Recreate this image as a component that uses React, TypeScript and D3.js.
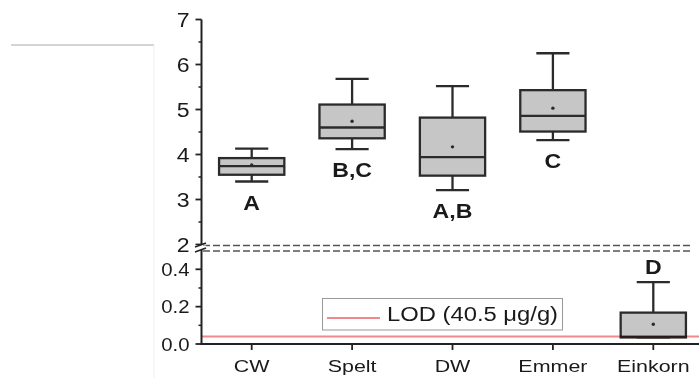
import * as d3 from 'd3';

const categories = ['CW', 'Spelt', 'DW', 'Emmer', 'Einkorn'];
const whiskerLow = [3.4, 4.12, 3.21, 4.32, 0.035];
const q1 = [3.55, 4.36, 3.53, 4.51, 0.035];
const median = [3.74, 4.6, 3.94, 4.86, 0.038];
const q3 = [3.92, 5.11, 4.82, 5.43, 0.168];
const whiskerHigh = [4.13, 5.68, 5.52, 6.25, 0.331];
const means = [3.77, 4.74, 4.17, 5.03, 0.106];
const letters = ['A', 'B,C', 'A,B', 'C', 'D'];
const letterSide = ['below', 'below', 'below', 'below', 'above'];

const upperTicks = [2, 3, 4, 5, 6, 7];
const upperMinor = [2.5, 3.5, 4.5, 5.5, 6.5];
const lowerTicks = [0, 0.2, 0.4];
const lowerMinor = [0.1, 0.3];
const lod = 0.0405;
const lodLabel = 'LOD (40.5 μg/g)';

const W = 699;
const H = 378;
const axisX = 201.5;
const font = 'Liberation Sans, Arial, sans-serif';
const ink = '#1a1a1a';

const yUp = d3.scaleLinear().domain([2, 7]).range([244.5, 19.5]);
const yLow = d3.scaleLinear().domain([0, 0.4]).range([344, 269.3]);
const y = (v: number) => (v >= 2 ? yUp(v) : yLow(v));
const x = d3.scaleBand().domain(categories).range([axisX, 703.5]);

function SText({ x, y, sx, size, anchor = 'start', weight = 'normal', children }: any) {
  return (
    <text
      transform={`translate(${x},${y}) scale(${sx},1)`}
      fontFamily={font}
      fontSize={size}
      fontWeight={weight}
      textAnchor={anchor}
      fill={ink}
    >
      {children}
    </text>
  );
}

export default function App() {
  const bw = x.bandwidth() * 0.65;
  const cap = x.bandwidth() * 0.33;
  const sw = 2.3;
  return (
    <svg width={W} height={H} style={{ position: 'absolute', left: 0, top: 0, background: '#fff' }}>
      {/* stray frame lines on the left */}
      <line x1={11} x2={154} y1={45} y2={45} stroke="#aaa" strokeWidth={1} />
      <line x1={154} x2={154} y1={45} y2={378} stroke="#eee" strokeWidth={1} />

      {/* boxes */}
      {categories.map((c, i) => {
        const cx = (x(c) as number) + x.bandwidth() / 2;
        const ly = letterSide[i] === 'below' ? y(whiskerLow[i]) + 28 : y(whiskerHigh[i]) - 8;
        return (
          <g key={c}>
            <line x1={cx} x2={cx} y1={y(whiskerHigh[i])} y2={y(q3[i])} stroke="#2b2b2b" strokeWidth={sw} />
            <line x1={cx} x2={cx} y1={y(q1[i])} y2={y(whiskerLow[i])} stroke="#2b2b2b" strokeWidth={sw} />
            <line x1={cx - cap / 2} x2={cx + cap / 2} y1={y(whiskerHigh[i])} y2={y(whiskerHigh[i])} stroke="#2b2b2b" strokeWidth={sw} />
            <line x1={cx - cap / 2} x2={cx + cap / 2} y1={y(whiskerLow[i])} y2={y(whiskerLow[i])} stroke="#2b2b2b" strokeWidth={sw} />
            <rect x={cx - bw / 2} y={y(q3[i])} width={bw} height={y(q1[i]) - y(q3[i])} fill="#c6c6c6" stroke="#2b2b2b" strokeWidth={sw} />
            <line x1={cx - bw / 2} x2={cx + bw / 2} y1={y(median[i])} y2={y(median[i])} stroke="#2b2b2b" strokeWidth={sw} />
            <circle cx={cx} cy={y(means[i])} r={1.7} fill="#2b2b2b" />
            <SText x={cx} y={ly} sx={1.1} size={21} anchor="middle" weight="bold">{letters[i]}</SText>
          </g>
        );
      })}

      {/* LOD line */}
      <line x1={axisX} x2={W} y1={y(lod)} y2={y(lod)} stroke="#f08a8a" strokeWidth={2} style={{ mixBlendMode: 'multiply' }} />

      {/* legend */}
      <rect x={322.5} y={298.5} width={240} height={31.5} fill="#fff" stroke="#999" strokeWidth={1} />
      <line x1={327} x2={380} y1={318} y2={318} stroke="#f08a8a" strokeWidth={2} />
      <SText x={387} y={321} sx={1.19} size={20}>{lodLabel}</SText>

      {/* broken axis dashes */}
      <line x1={203} x2={692} y1={245.5} y2={245.5} stroke="#555" strokeWidth={1.7} strokeDasharray="7,3" />
      <line x1={203} x2={692} y1={251} y2={251} stroke="#555" strokeWidth={1.7} strokeDasharray="7,3" />

      {/* y axis, upper */}
      <line x1={axisX} x2={axisX} y1={yUp(7)} y2={245} stroke="#222" strokeWidth={2} />
      {upperTicks.map(t => (
        <g key={'u' + t}>
          <line x1={axisX - 6} x2={axisX} y1={yUp(t)} y2={yUp(t)} stroke="#222" strokeWidth={1.8} />
          <SText x={189.5} y={yUp(t) + 7.5} sx={1.1} size={21} anchor="end">{t}</SText>
        </g>
      ))}
      {upperMinor.map(t => (
        <line key={'um' + t} x1={axisX - 3} x2={axisX} y1={yUp(t)} y2={yUp(t)} stroke="#222" strokeWidth={1.5} />
      ))}

      {/* y axis, lower */}
      <line x1={axisX} x2={axisX} y1={250} y2={yLow(0)} stroke="#222" strokeWidth={2} />
      {lowerTicks.map(t => (
        <g key={'l' + t}>
          <line x1={axisX - 6} x2={axisX} y1={yLow(t)} y2={yLow(t)} stroke="#222" strokeWidth={1.8} />
          <SText x={189.5} y={yLow(t) + 6.5} sx={1.1} size={18.5} anchor="end">{t.toFixed(1)}</SText>
        </g>
      ))}
      {lowerMinor.map(t => (
        <line key={'lm' + t} x1={axisX - 3} x2={axisX} y1={yLow(t)} y2={yLow(t)} stroke="#222" strokeWidth={1.5} />
      ))}

      {/* break marks */}
      <rect x={194} y={245.5} width={12} height={4} fill="#fff" />
      <line x1={195} x2={206} y1={247} y2={243} stroke="#222" strokeWidth={1.6} />
      <line x1={195} x2={206} y1={252} y2={248} stroke="#222" strokeWidth={1.6} />

      {/* x axis */}
      <line x1={axisX - 1} x2={W} y1={yLow(0)} y2={yLow(0)} stroke="#222" strokeWidth={2} />
      {categories.map(c => {
        const cx = (x(c) as number) + x.bandwidth() / 2;
        return (
          <g key={'x' + c}>
            <line x1={cx} x2={cx} y1={yLow(0)} y2={yLow(0) + 6} stroke="#222" strokeWidth={1.8} />
            <SText x={cx} y={371.5} sx={1.3} size={16.5} anchor="middle">{c}</SText>
          </g>
        );
      })}
    </svg>
  );
}
